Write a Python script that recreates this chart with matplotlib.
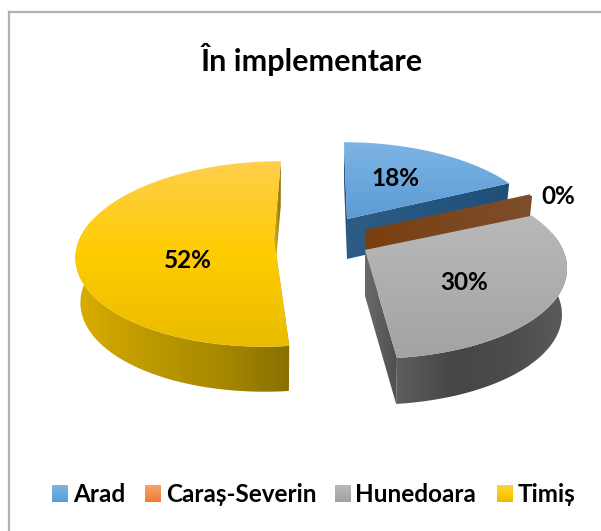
import numpy as np
import matplotlib
matplotlib.use('Agg')
import matplotlib.pyplot as plt
from matplotlib.patches import Polygon
from matplotlib.colors import to_rgb

W, H = 601, 531

title = 'În implementare'
categories = ['Arad', 'Caraș-Severin', 'Hunedoara', 'Timiș']
values = [18, 0.3, 30, 51.7]
labels = ['18%', '0%', '30%', '52%']
colors = ['#5B9BD5', '#ED7D31', '#A5A5A5', '#FFC000']

# per slice: apex x, apex y, rx, skew, depth
layout = [(347, 219, 194, 0.04, 40),
          (365, 230, 196, 0.0, 40),
          (365, 250, 198, 0.06, 46),
          (274, 238, 194, -0.09, 45)]
# top face gradient stops, outer wall stops, cut face colours
top_stops = [['#7DB5E4', '#5B9BD5'],
             ['#F6A26B', '#ED7D31'],
             ['#B9B9B9', '#A3A3A3'],
             ['#FFCF4D', '#FFCC00', '#E9BC00']]
wall_stops = [['#24527A', '#24527A'],
              ['#7A3F10', '#7D4E2C'],
              ['#5E5E5E', '#464646', '#4C4C4C', '#5C5C5C'],
              ['#D9AD00', '#BE9A00', '#A88A00', '#8A7000']]
cut_colors = [['#2D5C85', '#1F4E79'],
              ['#7A3F10', '#7D4E2C'],
              ['#6A6A6A', '#4F4F4F'],
              ['#E0B420', '#8A7000']]
label_pos = [(395, 179), (558, 196), (464, 282), (188, 261)]
legend_x = [52, 145, 335, 497]
legend_text_x = [73, 166, 355, 518]
tilt = 90
persp = 0.172
floor_scale = 0.975

plt.rcParams['font.family'] = ['Lato', 'DejaVu Sans']
fig = plt.figure(figsize=(W / 100, H / 100), dpi=100)
ax = fig.add_axes([0, 0, 1, 1])
ax.axis('off')


def project(a, s):
    cx, cy, rx, skew, d = s
    u, v = np.sin(a), np.cos(a)
    p = 1 / (1 + persp * v)
    dy = -tilt * v * p
    return cx + rx * u * p + skew * dy, cy + dy


def gradient_poly(xs, ys, stops, z, horizontal=False):
    # gradient image clipped to the polygon
    xs, ys = np.asarray(xs, float), np.asarray(ys, float)
    rgb = np.array([to_rgb(c) for c in stops])
    t = np.linspace(0, 1, 128)
    pos = np.linspace(0, 1, len(stops))
    line = np.stack([np.interp(t, pos, rgb[:, k]) for k in range(3)], axis=-1)
    img = line[None, :, :] if horizontal else line[:, None, :]
    im = ax.imshow(img, extent=[xs.min(), xs.max(), ys.max(), ys.min()], aspect='auto', zorder=z)
    patch = Polygon(np.c_[xs, ys], closed=True, transform=ax.transData, fc='none', ec='none')
    ax.add_patch(patch)
    im.set_clip_path(patch)


fracs = np.cumsum([0] + values) / sum(values) * 2 * np.pi
order = [0, 1, 3, 2]
for n, i in enumerate(order):
    s = layout[i]
    cx, cy, d = s[0], s[1], s[4]
    a = np.linspace(fracs[i], fracs[i + 1], 200)
    x, y = project(a, s)
    z = 2 + n * 3
    # lower rim sits a little closer to the apex
    xl = cx + (x - cx) * floor_scale

    # cut faces
    gradient_poly([cx, x[0], xl[0], cx], [cy, y[0], y[0] + d, cy + d], cut_colors[i], z, True)
    gradient_poly([cx, x[-1], xl[-1], cx], [cy, y[-1], y[-1] + d, cy + d], wall_stops[i] if i == 1 else cut_colors[i], z, True)

    # outer wall, only the part turned to the front
    front = np.cos(a) < 0.2
    if front.any() and i >= 2:
        wx = np.r_[x[front], xl[front][::-1]]
        wy = np.r_[y[front], y[front][::-1] + d]
        gradient_poly(wx, wy, wall_stops[i], z + 1, True)

    # top face
    if i != 1:
        gradient_poly(np.r_[cx, x], np.r_[cy, y], top_stops[i], z + 2)

# chart frame
ax.plot([9, 9], [H, 12], color='#B0B0B0', lw=1.6, zorder=40)
ax.plot([9, W], [12, 12], color='#B0B0B0', lw=1.6, zorder=40)

for (lx, ly), t in zip(label_pos, labels):
    ax.text(lx, ly, t, fontsize=17.5, fontweight='bold', ha='center', va='center', color='k', zorder=50)

ax.text(312, 60, title, fontsize=22, fontweight='bold', ha='center', va='center', color='k', zorder=50)

# legend
for i, name in enumerate(categories):
    sx = legend_x[i]
    gradient_poly([sx, sx + 16, sx + 16, sx], [485, 485, 502, 502], top_stops[i], 20)
    ax.text(legend_text_x[i], 495, name, fontsize=17.5, fontweight='bold', ha='left', va='center', color='k', zorder=50)

ax.set_xlim(0, W)
ax.set_ylim(H, 0)
fig.savefig('out.png', dpi=100, facecolor='white')
